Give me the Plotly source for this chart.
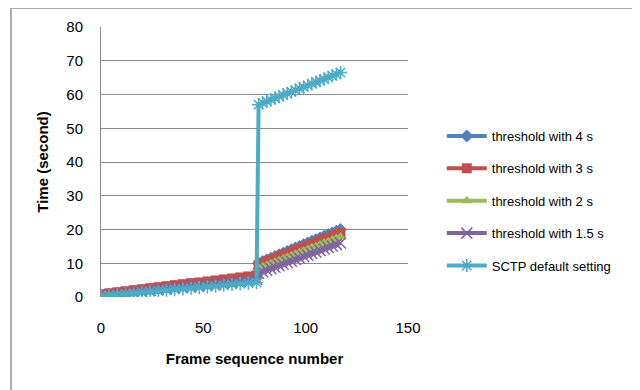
import plotly.graph_objects as go

frames_pre = [0, 4, 8, 12, 16, 20, 24, 28, 32, 36, 40, 44, 48, 52, 56, 60, 64, 68, 72, 76]
frames_post = [77, 79, 81, 83, 85, 87, 89, 91, 93, 95, 97, 99, 101, 103, 105, 107, 109, 111, 113, 115, 117]

t4_pre = [0.6, 0.9, 1.2, 1.4, 1.7, 2.0, 2.3, 2.5, 2.8, 3.1, 3.3, 3.6, 3.9, 4.2, 4.4, 4.7, 5.0, 5.2, 5.5, 5.8]
t3_pre = [0.8, 1.1, 1.4, 1.7, 2.0, 2.3, 2.6, 2.9, 3.2, 3.5, 3.8, 4.1, 4.3, 4.6, 4.9, 5.2, 5.5, 5.8, 6.1, 6.4]
t2_pre = [0.2, 0.4, 0.7, 0.9, 1.2, 1.5, 1.7, 2.0, 2.2, 2.5, 2.7, 3.0, 3.2, 3.5, 3.7, 4.0, 4.2, 4.5, 4.7, 5.0]
t15_pre = [0.4, 0.6, 0.9, 1.2, 1.4, 1.7, 1.9, 2.2, 2.4, 2.7, 2.9, 3.2, 3.4, 3.7, 3.9, 4.2, 4.4, 4.7, 4.9, 5.2]
sctp_pre = [0.3, 0.5, 0.7, 0.9, 1.1, 1.4, 1.6, 1.8, 2.0, 2.2, 2.4, 2.6, 2.8, 3.0, 3.2, 3.5, 3.7, 3.9, 4.1, 4.3]

t4_post = [10.0, 10.5, 11.0, 11.5, 12.0, 12.5, 13.0, 13.5, 14.0, 14.5, 15.0, 15.5, 16.0, 16.5, 17.0, 17.5, 18.0, 18.5, 19.0, 19.5, 20.0]
t3_post = [9.5, 10.0, 10.5, 10.9, 11.4, 11.9, 12.4, 12.8, 13.3, 13.8, 14.3, 14.7, 15.2, 15.7, 16.2, 16.6, 17.1, 17.6, 18.1, 18.5, 19.0]
t2_post = [8.5, 9.0, 9.4, 9.9, 10.4, 10.8, 11.3, 11.8, 12.2, 12.7, 13.2, 13.6, 14.1, 14.6, 15.0, 15.5, 16.0, 16.4, 16.9, 17.3, 17.8]
t15_post = [7.0, 7.5, 7.9, 8.4, 8.8, 9.3, 9.7, 10.2, 10.6, 11.1, 11.5, 12.0, 12.4, 12.9, 13.3, 13.8, 14.2, 14.7, 15.1, 15.6, 16.0]
sctp_post = [57.0, 57.5, 58.0, 58.4, 58.9, 59.4, 59.9, 60.3, 60.8, 61.3, 61.8, 62.2, 62.7, 63.2, 63.7, 64.1, 64.6, 65.1, 65.6, 66.0, 66.5]

names = ["threshold with 4 s", "threshold with 3 s", "threshold with 2 s",
         "threshold with 1.5 s", "SCTP default setting"]
colors = ["#4F81BD", "#C0504D", "#9BBB59", "#8064A2", "#4BACC6"]
symbols = ["diamond", "square", "triangle-up", "x-thin-open", "asterisk-open"]
pre = [t4_pre, t3_pre, t2_pre, t15_pre, sctp_pre]
post = [t4_post, t3_post, t2_post, t15_post, sctp_post]

fig = go.Figure()
for i in range(5):
    marker = dict(symbol=symbols[i], size=10, color=colors[i])
    if symbols[i].endswith("open"):
        marker["line"] = dict(color=colors[i], width=1.5)
        marker["size"] = 11
    fig.add_trace(go.Scatter(
        x=frames_pre + frames_post, y=pre[i] + post[i],
        mode="lines+markers", name=names[i], legendgroup=str(i),
        line=dict(color=colors[i], width=4), marker=marker))

frame_line = dict(color="#ADADAD", width=2)
fig.update_layout(
    width=632, height=382,
    paper_bgcolor="white", plot_bgcolor="white",
    margin=dict(l=93, r=232, t=19, b=93, autoexpand=False),
    font=dict(family="Liberation Sans", size=15, color="#000000"),
    showlegend=True,
    legend=dict(x=1.11, y=0.652, xanchor="left", yanchor="top",
                font=dict(size=13), itemwidth=40, tracegroupgap=12.5,
                traceorder="grouped", bgcolor="rgba(0,0,0,0)"),
    xaxis=dict(range=[0, 150], tickvals=[0, 50, 100, 150], showgrid=False,
               zeroline=False, showline=False, ticks="", ticklabelstandoff=20,
               tickfont=dict(size=15),
               title=dict(text="<b>Frame sequence number</b>", standoff=18,
                          font=dict(size=15))),
    yaxis=dict(range=[0, 80], tickvals=[0, 10, 20, 30, 40, 50, 60, 70, 80],
               showgrid=True, gridcolor="#8C8C8C", gridwidth=1,
               zeroline=False, showline=True, linecolor="#8C8C8C", ticks="",
               ticklabelstandoff=14, tickfont=dict(size=15),
               title=dict(text="<b>Time (second)</b>", standoff=14,
                          font=dict(size=15))),
    shapes=[
        dict(type="line", xref="paper", yref="paper",
             x0=-90/307, x1=1.0 + 300/307, y0=1.0 + 19/270, y1=1.0 + 19/270,
             line=frame_line, layer="below"),
        dict(type="line", xref="paper", yref="paper",
             x0=-90/307, x1=-90/307, y0=-130/270, y1=1.0 + 19/270,
             line=frame_line, layer="below"),
    ],
)

fig.write_html("out.html")
